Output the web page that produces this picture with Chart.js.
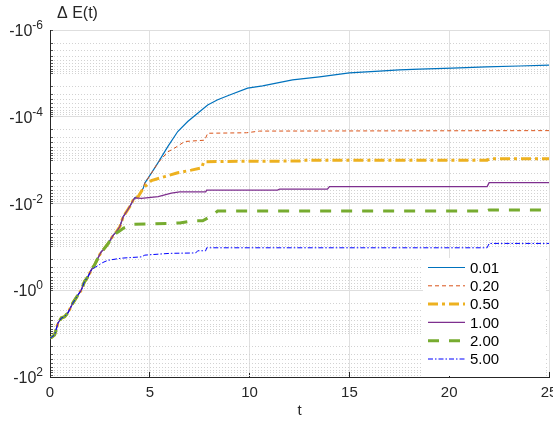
<!DOCTYPE html>
<html>
<head>
<meta charset="utf-8">
<script src="https://cdn.jsdelivr.net/npm/chart.js@4.4.1/dist/chart.umd.min.js"></script>
<style>
body { margin: 0; background: #fff; }
#wrap { width: 553px; height: 421px; }
</style>
</head>
<body>
<div id="wrap"><canvas id="mycanvas"></canvas></div>
<script>
// shared start, all runs lie on top of each other here
var tBase = [0, 0.07, 0.23, 0.4, 0.57, 0.73, 0.9, 1.15, 1.4, 1.57, 1.73, 1.9, 2.07, 2.23, 2.4, 2.57, 2.67, 2.92,
	3.17, 3.33, 3.5, 3.67, 3.83, 4.0, 4.17, 4.25, 4.42, 4.67, 4.75, 5.08, 5.4];
var dEBase = [-12.6, -12.2, -10.7, -5.69, -4.37, -4.07, -3.31, -1.95, -1.29, -0.986, -0.631, -0.490, -0.339, -0.263,
	-0.182, -0.129, -0.117, -0.0832, -0.0537, -0.0447, -0.0339, -0.0200, -0.0155, -0.0117, -0.00832, -0.00741,
	-0.00692, -0.00447, -0.00339, -0.00200, -0.00117];

var labels = ['0.01', '0.20', '0.50', '1.00', '2.00', '5.00'];
// how many of the shared points each run follows before it splits off
var baseCount = [31, 31, 28, 26, 19, 13];

var t001 = [5.9, 6.4, 6.9, 7.4, 7.9, 8.4, 9.0, 9.9, 10.65, 12.15, 13.5, 15.0, 16.5, 17.5, 18.5, 20.15, 21.85, 23.5, 25];
var dE001 = [-4.90e-4, -2.19e-4, -1.29e-4, -8.32e-5, -5.37e-5, -4.07e-5, -3.16e-5, -2.19e-5, -1.95e-5, -1.41e-5,
	-1.20e-5, -9.77e-6, -8.91e-6, -8.32e-6, -7.94e-6, -7.59e-6, -7.08e-6, -6.76e-6, -6.46e-6];

var t020 = [5.9, 6.25, 6.75, 7.75, 7.9, 9.85, 10.5, 25];
var dE020 = [-6.46e-4, -5.25e-4, -3.72e-4, -3.47e-4, -2.40e-4, -2.34e-4, -2.14e-4, -2.09e-4];

var t050 = [4.75, 5.08, 5.75, 6.4, 7.08, 7.6, 7.7, 8.75, 12.5, 12.65, 21.9, 22.0, 25];
var dE050 = [-4.07e-3, -2.95e-3, -2.40e-3, -1.95e-3, -1.70e-3, -1.51e-3, -1.10e-3, -1.07e-3, -1.05e-3, -1.00e-3,
	-1.00e-3, -9.33e-4, -9.33e-4];

var t100 = [4.58, 5.42, 6.08, 6.5, 7.8, 7.85, 11.4, 11.5, 13.9, 14.0, 21.9, 22.0, 25];
var dE100 = [-7.59e-3, -6.92e-3, -5.75e-3, -5.37e-3, -5.37e-3, -4.90e-3, -4.90e-3, -4.68e-3, -4.68e-3, -4.07e-3,
	-4.07e-3, -3.31e-3, -3.31e-3];

var t200 = [3.5, 3.67, 4.15, 5.0, 6.5, 7.15, 7.65, 8.15, 8.4, 21.9, 22.0, 25];
var dE200 = [-4.27e-2, -3.72e-2, -3.02e-2, -2.95e-2, -2.82e-2, -2.51e-2, -2.51e-2, -1.86e-2, -1.48e-2, -1.48e-2,
	-1.41e-2, -1.41e-2];

var t500 = [2.3, 2.65, 2.9, 3.58, 4.58, 4.75, 6.0, 7.3, 7.4, 7.8, 7.85, 21.9, 22.0, 25];
var dE500 = [-2.88e-1, -2.29e-1, -2.04e-1, -1.82e-1, -1.70e-1, -1.55e-1, -1.41e-1, -1.38e-1, -1.23e-1, -1.23e-1,
	-1.05e-1, -1.05e-1, -8.32e-2, -8.32e-2];

var yTickExps = [-6, -4, -2, 0, 2];
var xTicks = [0, 5, 10, 15, 20, 25];

var tails = [[t001, dE001], [t020, dE020], [t050, dE050], [t100, dE100], [t200, dE200], [t500, dE500]];

var colors = ['#0072BD', '#D95319', '#EDB120', '#7E2F8E', '#77AC30', '#0000FF'];
var widths = [1.2, 1, 3, 1.3, 3, 1];
var dashes = [[], [4, 3], [10, 4, 3, 4], [], [11, 10], [5, 2, 1.5, 2]];

var FONT = '"Liberation Sans", Arial, Helvetica, sans-serif';

function makePoints(n, tt, ee) {
	var pts = [];
	for (var i = 0; i < n; i++) pts.push({x: tBase[i], y: -dEBase[i]});
	for (var j = 0; j < tt.length; j++) pts.push({x: tt[j], y: -ee[j]});
	return pts;
}

var datasets = [];
for (var i = 0; i < labels.length; i++) {
	datasets.push({
		label: labels[i],
		data: makePoints(baseCount[i], tails[i][0], tails[i][1]),
		borderColor: colors[i],
		borderWidth: widths[i],
		borderDash: dashes[i],
		pointRadius: 0,
		fill: false,
		tension: 0,
		order: labels.length - 1 - i
	});
}

var extras = {
	id: 'extras',
	afterDraw: function(chart) {
		var c = chart.ctx, a = chart.chartArea, ys = chart.scales.y;
		c.save();
		c.fillStyle = '#262626';
		c.textBaseline = 'alphabetic';

		// title
		c.font = '16px ' + FONT;
		c.textAlign = 'left';
		c.fillText('\u0394 E(t)', a.left + 7, a.top - 12);

		// y tick labels -10^k
		c.textAlign = 'right';
		yTickExps.forEach(function(e) {
			var y = ys.getPixelForValue(Math.pow(10, e));
			var sup = String(e);
			c.font = '12px ' + FONT;
			var w2 = c.measureText(sup).width;
			c.fillText(sup, a.left - 7, y - 1);
			c.font = '16px ' + FONT;
			c.fillText('-10', a.left - 7 - w2, y + 6);
		});

		// legend box inside the plot
		var bx = a.right - 126, by = a.bottom - 119;
		c.fillStyle = '#fff';
		c.fillRect(bx, by, 123, 118);
		c.font = '15px ' + FONT;
		c.textAlign = 'left';
		c.textBaseline = 'middle';
		chart.data.datasets.forEach(function(ds, k) {
			var ly = by + 9.5 + k * 18.3;
			c.strokeStyle = ds.borderColor;
			c.lineWidth = ds.borderWidth;
			c.setLineDash(ds.borderDash || []);
			c.beginPath();
			c.moveTo(bx + 5, ly);
			c.lineTo(bx + 42, ly);
			c.stroke();
			c.setLineDash([]);
			c.fillStyle = '#000';
			c.fillText(ds.label, bx + 47, ly + 1);
		});
		c.restore();
	}
};

var ctx = document.getElementById('mycanvas');
var chart = new Chart(ctx, {
	type: 'line',
	data: {datasets: datasets},
	options: {
		responsive: true,
		maintainAspectRatio: false,
		animation: false,
		layout: {padding: {top: 30, right: 4, left: 0, bottom: 0}},
		plugins: {legend: {display: false}, tooltip: {enabled: false}},
		scales: {
			x: {
				type: 'linear', min: 0, max: 25,
				afterBuildTicks: function(s) { s.ticks = xTicks.map(function(v) { return {value: v}; }); },
				afterFit: function(s) { s.height = 44; s.paddingLeft = 0; s.paddingRight = 0; },
				ticks: {color: '#262626', font: {family: FONT, size: 15}, padding: 12, maxRotation: 0, autoSkip: false},
				grid: {drawTicks: true, tickLength: -5, tickColor: '#262626', color: '#e0e0e0', lineWidth: 1},
				border: {color: '#262626', width: 1},
				title: {display: true, text: 't', color: '#262626', font: {family: FONT, size: 15}, padding: {top: 0, bottom: 1}}
			},
			y: {
				type: 'logarithmic', reverse: true, min: 1e-6, max: 1e2,
				afterBuildTicks: function(s) {
					var t = [];
					for (var e = -6; e < 2; e++) {
						for (var k = 1; k < 10; k++) {
							t.push({value: k * Math.pow(10, e), major: k === 1 && yTickExps.indexOf(e) >= 0});
						}
					}
					t.push({value: 100, major: true});
					s.ticks = t;
				},
				afterFit: function(s) { s.width = 50; s.paddingTop = 0; s.paddingBottom = 0; },
				ticks: {display: false, autoSkip: false},
				grid: {
					drawTicks: true, tickLength: -3, tickColor: '#555555', lineWidth: 1,
					color: function(c) { return c.tick && c.tick.major ? '#dedede' : '#d2d2d2'; }
				},
				border: {
					color: '#262626', width: 1,
					dash: function(c) { return c.tick && !c.tick.major ? [1, 2] : []; }
				}
			}
		}
	},
	plugins: [extras]
});
</script>
</body>
</html>
